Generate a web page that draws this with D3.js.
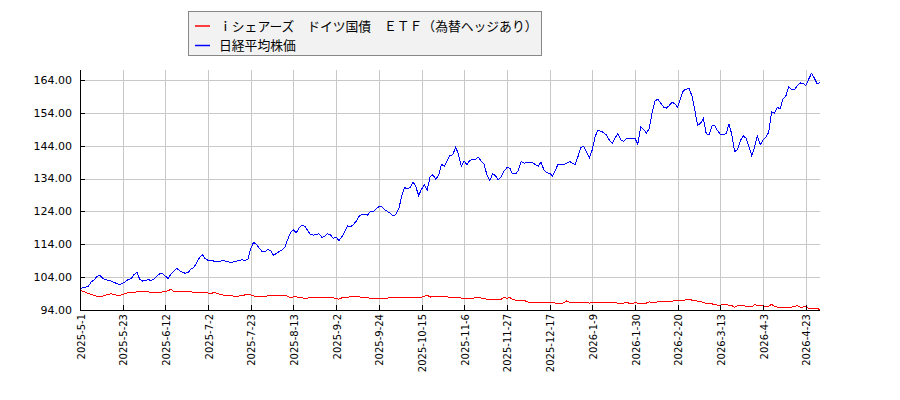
<!DOCTYPE html>
<html><head><meta charset="utf-8">
<script src="https://cdn.jsdelivr.net/npm/d3@7/dist/d3.min.js"></script>
<style>body{margin:0;background:#fff}svg{display:block}</style>
</head><body>
<svg id="c" width="900" height="400"></svg>
<script>
const seriesNames = ["ｉシェアーズ　ドイツ国債　ＥＴＦ（為替ヘッジあり）", "日経平均株価"];
const seriesColors = ["#ff0000", "#0000ff"];
const xTickLabels = ["2025-5-1","2025-5-23","2025-6-12","2025-7-2","2025-7-23","2025-8-13","2025-9-2","2025-9-24","2025-10-15","2025-11-6","2025-11-27","2025-12-17","2026-1-9","2026-1-30","2026-2-20","2026-3-13","2026-4-3","2026-4-23"];
const sessionsPerTick = 15;
const yTicks = [94,104,114,124,134,144,154,164];

// Nikkei 225 (rebased, one value per trading session)
const nikkei = [
100.1,100.9,101.0,101.3,102.6,103.2,104.3,104.5,103.7,103.2,
103.0,102.8,102.4,102.0,101.8,102.1,102.7,103.3,103.5,104.8,
105.5,103.3,102.8,103.0,103.3,102.9,103.5,104.3,105.0,105.1,
104.3,103.6,105.0,105.8,106.7,106.0,105.4,105.2,105.5,106.4,
107.0,108.4,110.0,110.9,109.6,109.1,109.0,108.9,108.8,108.7,
109.1,108.9,108.7,108.4,108.7,108.9,109.0,109.3,109.1,109.4,
112.8,114.6,114.0,112.8,111.8,111.7,112.4,112.0,110.6,111.2,
111.8,112.3,113.2,115.5,117.6,118.4,117.5,119.0,119.8,119.5,
118.2,116.9,116.8,117.0,117.2,116.1,116.5,117.2,116.9,115.8,
116.2,115.1,116.3,117.8,119.6,119.3,119.9,121.0,122.5,123.0,
123.0,122.9,124.0,123.8,124.8,125.4,125.5,124.6,124.0,123.4,
122.6,123.1,124.8,128.5,131.2,131.0,131.2,133.0,131.5,128.8,
130.8,132.0,130.5,134.6,135.2,133.8,135.0,138.3,137.8,139.5,
141.0,141.2,143.7,141.2,137.8,139.3,138.2,139.6,139.8,139.9,
140.5,139.2,138.3,135.0,133.4,135.5,134.8,133.6,134.5,136.3,
137.3,137.2,135.4,135.4,136.4,139.2,138.7,138.8,138.9,138.9,
138.2,137.8,139.0,136.6,135.8,135.6,134.8,136.5,138.4,138.3,
138.3,138.6,139.2,138.7,138.3,140.8,143.5,143.8,142.0,140.3,
142.8,146.8,148.8,148.4,148.0,147.2,145.7,144.8,146.3,147.7,
145.8,145.4,146.1,146.2,146.2,146.2,144.5,149.8,149.0,147.8,
149.2,154.0,157.6,158.2,157.0,155.8,155.4,156.2,157.2,156.8,
155.7,158.5,160.8,161.2,161.4,159.2,154.9,150.2,150.8,152.3,
147.8,147.2,150.0,150.2,148.6,147.5,147.5,147.6,150.6,147.5,
142.2,142.8,145.5,147.0,146.3,143.8,141.0,143.6,147.0,144.3,
145.8,146.5,148.2,154.4,153.8,155.6,155.3,158.2,159.1,162.0,
161.0,161.0,162.3,163.1,163.0,162.3,164.2,166.0,164.6,162.8,
163.3];

// iShares German Bund ETF (JPY hedged), rebased
const bund = [
99.9,99.7,99.4,99.0,98.7,98.4,98.2,98.1,98.2,98.5,
98.8,98.9,98.7,98.5,98.4,98.8,99.0,99.3,99.4,99.4,
99.5,99.6,99.7,99.6,99.5,99.3,99.3,99.4,99.4,99.5,
99.6,99.9,100.3,99.5,99.6,99.7,99.7,99.7,99.6,99.5,
99.4,99.3,99.3,99.3,99.3,99.2,98.9,99.4,99.1,98.8,
98.6,98.4,98.4,98.4,98.2,98.1,98.3,98.4,98.6,98.9,
98.6,98.3,98.1,98.0,98.1,98.2,98.3,98.4,98.5,98.5,
98.5,98.4,98.4,98.2,97.7,98.0,98.1,97.7,97.7,97.6,
97.6,97.8,97.9,97.8,97.7,97.9,97.9,97.9,97.9,97.7,
97.4,97.3,97.7,97.9,97.9,98.0,98.1,98.2,98.0,97.9,
97.8,97.7,97.6,97.6,97.6,97.6,97.6,97.6,97.6,97.8,
97.9,97.8,97.9,97.8,97.8,97.9,97.9,97.8,97.9,97.9,
97.9,98.2,98.5,97.9,98.2,98.2,98.2,98.1,98.0,98.0,
97.9,97.9,97.9,97.8,97.6,97.6,97.6,97.6,97.6,97.7,
97.9,97.6,97.4,97.3,97.3,97.3,97.3,97.3,97.3,97.8,
97.6,97.8,97.3,97.0,97.0,96.8,96.9,96.6,96.2,96.3,
96.3,96.2,96.3,96.4,96.3,96.3,96.3,96.1,95.9,96.0,
96.2,96.8,96.3,96.2,96.2,96.3,96.3,96.4,96.3,96.1,
96.2,96.2,96.3,96.3,96.4,96.4,96.3,96.2,96.2,96.1,
96.1,96.1,96.2,96.1,96.0,96.2,96.1,96.1,96.0,96.1,
96.5,96.2,96.3,96.5,96.5,96.6,96.6,96.6,96.7,96.8,
96.8,96.9,97.0,97.1,97.25,97.0,96.9,96.7,96.5,96.4,
95.9,96.1,95.9,95.6,95.5,95.5,95.6,95.6,95.5,95.4,
94.8,95.3,95.5,95.5,95.0,94.9,95.0,95.6,95.4,95.5,
95.3,95.0,95.2,95.7,95.1,94.9,94.7,94.8,94.9,94.8,
94.9,95.1,95.3,94.9,94.9,95.1,94.5,94.5,94.5,94.4,
94.2];

const svg = d3.select("#c");
const L = 80, R = 820, T = 70, B = 310;
const nSessions = nikkei.length;
const x = d3.scaleLinear().domain([0, nSessions - 1]).range([L, R]);
const y = d3.scaleLinear().domain([94, 164]).range([B, 80]);

const font = "'DejaVu Sans', sans-serif";
const tickIdx = xTickLabels.map((d, i) => i * sessionsPerTick);

// grid
const g = svg.append("g").attr("shape-rendering", "crispEdges");
g.selectAll("line.vg").data(tickIdx).enter().append("line")
  .attr("x1", d => Math.round(x(d)) + 0.5).attr("x2", d => Math.round(x(d)) + 0.5)
  .attr("y1", T).attr("y2", B).attr("stroke", "#c8c8c8");
g.selectAll("line.hg").data(yTicks).enter().append("line")
  .attr("x1", L).attr("x2", R)
  .attr("y1", d => Math.round(y(d)) + 0.5).attr("y2", d => Math.round(y(d)) + 0.5)
  .attr("stroke", "#c8c8c8");

// lines
const line = d3.line().x((d, i) => x(i)).y(d => y(d));
[bund, nikkei].forEach((s, k) => {
  svg.append("path").datum(s).attr("d", line).attr("fill", "none")
    .attr("stroke", seriesColors[k]).attr("stroke-width", 1)
    .attr("shape-rendering", "crispEdges");
});

// axes
const ax = svg.append("g").attr("shape-rendering", "crispEdges");
ax.append("line").attr("x1", L + 0.5).attr("x2", L + 0.5).attr("y1", T).attr("y2", B + 0.5).attr("stroke", "#000");
ax.append("line").attr("x1", L).attr("x2", R).attr("y1", B + 0.5).attr("y2", B + 0.5).attr("stroke", "#000");
ax.selectAll("line.yt").data(yTicks).enter().append("line")
  .attr("x1", L).attr("x2", L + 5)
  .attr("y1", d => Math.round(y(d)) + 0.5).attr("y2", d => Math.round(y(d)) + 0.5).attr("stroke", "#000");
ax.selectAll("line.xt").data(tickIdx).enter().append("line")
  .attr("x1", d => Math.round(x(d)) + 0.5).attr("x2", d => Math.round(x(d)) + 0.5)
  .attr("y1", B - 5).attr("y2", B).attr("stroke", "#000");

svg.selectAll("text.yl").data(yTicks).enter().append("text")
  .attr("x", 72).attr("y", d => y(d)).attr("dy", "0.35em")
  .attr("text-anchor", "end").attr("font-family", font).attr("font-size", 11)
  .attr("fill", "#000").text(d => d.toFixed(2));

svg.selectAll("text.xl").data(xTickLabels).enter().append("text")
  .attr("transform", (d, i) => `translate(${x(tickIdx[i]) + 1},${B + 4}) rotate(-90)`)
  .attr("dy", "0.35em").attr("text-anchor", "end")
  .attr("font-family", font).attr("font-size", 10).attr("fill", "#000").text(d => d);

// legend
const lg = svg.append("g");
lg.append("rect").attr("x", 188.5).attr("y", 11.5).attr("width", 353).attr("height", 44)
  .attr("fill", "#f2f2f2").attr("stroke", "#888").attr("shape-rendering", "crispEdges");
seriesNames.forEach((n, k) => {
  const yy = 26 + k * 19.5;
  lg.append("line").attr("x1", 195).attr("x2", 210).attr("y1", yy).attr("y2", yy)
    .attr("stroke", seriesColors[k]).attr("stroke-width", 1.5);
  lg.append("text").attr("x", 219).attr("y", yy).attr("dy", "0.36em")
    .attr("font-family", "'Noto Sans CJK JP', sans-serif").attr("font-size", 12.8)
    .attr("fill", "#000").text(n);
});
</script>
</body></html>
